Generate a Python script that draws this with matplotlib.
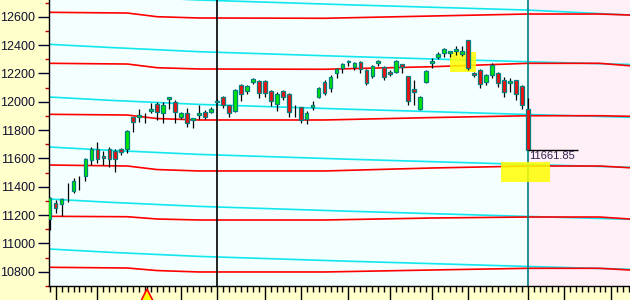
import numpy as np
import matplotlib
matplotlib.use('Agg')
import matplotlib.pyplot as plt
from matplotlib.patches import Rectangle

# candles, index 0..80
opens = [11172, 11285, 11278, 11377, 11370, 11426, 11476, 11589, 11666, 11617,
         11666, 11652, 11666, 11666, 11892, 11892, 11885, 11934, 11984, 11920,
         12019, 11998, 11892, 11920, 11871, 11906, 11927, 11927, 12001, 12033,
         11977, 11934, 12118, 12076, 12139, 12146, 12146, 12076, 11984, 12076,
         12054, 11942, 11963, 11878, 11963, 12033, 12139, 12097, 12203, 12238,
         12277, 12245, 12280, 12224, 12182, 12273, 12245, 12210, 12210, 12266,
         12182, 12090, 11949, 12139, 12273, 12316, 12344, 12344, 12358, 12337,
         12436, 12203, 12224, 12139, 12189, 12203, 12153, 12132, 12153, 12111,
         11949]
closes = [11320, 11250, 11313, 11377, 11440, 11426, 11596, 11666, 11596, 11603,
          11596, 11596, 11645, 11793, 11857, 11906, 11885, 11949, 11927, 11977,
          12033, 11927, 11920, 11850, 11885, 11920, 11892, 11949, 12008, 11977,
          11920, 12083, 12054, 12111, 12160, 12062, 12062, 12005, 12054, 12033,
          11927, 11942, 11871, 11920, 11977, 12097, 12062, 12174, 12231, 12266,
          12284, 12273, 12231, 12132, 12252, 12287, 12174, 12196, 12287, 12245,
          12005, 12069, 12033, 12217, 12287, 12337, 12372, 12358, 12372, 12358,
          12238, 12189, 12125, 12189, 12259, 12132, 12069, 12146, 12054, 11977,
          11661.85]
highs = [11327, 11306, 11320, 11426, 11461, 11476, 11603, 11680, 11716, 11652,
         11680, 11666, 11673, 11800, 11892, 11949, 11920, 11991, 11998, 11998,
         12033, 12012, 11927, 11956, 11885, 11977, 11942, 11963, 12019, 12040,
         11977, 12090, 12125, 12118, 12167, 12153, 12153, 12083, 12069, 12083,
         12062, 11977, 11963, 11934, 12005, 12104, 12153, 12189, 12238, 12273,
         12294, 12280, 12287, 12231, 12259, 12294, 12252, 12224, 12294, 12266,
         12182, 12153, 12040, 12224, 12309, 12351, 12379, 12358, 12393, 12393,
         12436, 12210, 12231, 12196, 12273, 12210, 12174, 12167, 12153, 12118,
         12026]
lows = [11094, 11214, 11193, 11292, 11356, 11377, 11440, 11553, 11567, 11553,
        11539, 11504, 11624, 11638, 11786, 11857, 11850, 11920, 11871, 11850,
        11949, 11850, 11878, 11822, 11814, 11878, 11878, 11920, 11991, 11956,
        11892, 11927, 12005, 12054, 12125, 12026, 12033, 11970, 11934, 12012,
        11892, 11892, 11850, 11843, 11942, 12026, 12047, 12069, 12167, 12203,
        12252, 12224, 12203, 12118, 12167, 12252, 12153, 12182, 12203, 12203,
        11977, 11977, 11942, 12132, 12238, 12302, 12316, 12316, 12330, 12323,
        12224, 12174, 12097, 12118, 12167, 12104, 12033, 12069, 12012, 11949,
        11661.85]

# level lines
red_idx = [0, 13, 18, 25, 46, 64, 80, 92, 97]
red_levels = [
    [12631, 12626, 12600, 12591, 12589, 12605, 12619, 12619, 12612],
    [12271, 12266, 12240, 12231, 12229, 12247, 12271, 12271, 12254],
    [11911, 11906, 11881, 11871, 11871, 11888, 11901, 11901, 11897],
    [11553, 11546, 11521, 11511, 11511, 11532, 11546, 11546, 11534],
    [11191, 11188, 11172, 11165, 11165, 11179, 11186, 11186, 11172],
    [10831, 10826, 10808, 10798, 10798, 10812, 10824, 10824, 10812],
]
cyan_idx = [0, 10, 25, 50, 80, 97]
cyan_levels = [
    [12770, 12747, 12718, 12684, 12647, 12612],
    [12405, 12383, 12353, 12319, 12282, 12263],
    [12033, 12010, 11981, 11947, 11910, 11890],
    [11680, 11657, 11628, 11594, 11557, 11537],
    [11313, 11290, 11261, 11227, 11190, 11170],
    [10960, 10937, 10908, 10874, 10837, 10817],
]

# highlight boxes: (idx0, idx1, price0, price1)
boxes = [(67.0, 71.3, 12210, 12351), (75.5, 83.7, 11433, 11574)]

black_vline = 28
teal_vline = 80
yticks = list(range(10800, 12601, 200))
xticks_major = [1, 8, 16.3, 22, 28, 42, 50, 64, 70, 86, 94]
xticks_red = [36, 57, 80]
marker_pos = 16.3

fig = plt.figure(figsize=(6.3, 3.0), dpi=100, facecolor='#FFFFCC')
ax = fig.add_axes([49 / 630, 14 / 300, 581 / 630, 286 / 300])
ax.set_facecolor('#F4FFFF')
ax.set_xlim(-0.1, 97.1)
ax.set_ylim(10699, 12718)

ax.axvspan(teal_vline, 98, color='#FFF0F8', lw=0, zorder=0)

for lv in cyan_levels:
    ax.plot(cyan_idx, lv, color='#12E6EE', lw=1.2, zorder=1)
for lv in red_levels:
    ax.plot(red_idx, lv, color='#FF0000', lw=1.2, zorder=1)

ax.axvline(black_vline, color='black', lw=1.2, zorder=2)
ax.axvline(teal_vline, color='#008080', lw=1.2, zorder=2)

for b in boxes:
    ax.add_patch(Rectangle((b[0], b[2]), b[1] - b[0], b[3] - b[2],
                           facecolor='#FFFF00', edgecolor='none', alpha=0.85, zorder=3))

o = np.array(opens)
c = np.array(closes)
x = np.arange(len(o))
ax.vlines(x, lows, highs, color='black', lw=0.9, zorder=4)
has_body = o != c
cols = np.where(c > o, '#00E600', '#EE1111')
ax.bar(x[has_body], np.abs(c - o)[has_body], bottom=np.minimum(o, c)[has_body],
       width=0.62, color=cols[has_body], edgecolor='#008080', linewidth=0.9, zorder=5)

# last price label
last = closes[-1]
ax.hlines(last, len(closes) - 1, len(closes) - 1 + 8.4, color='black', lw=1, zorder=6)
ax.text(len(closes) - 1 + 0.3, last - 12, '%.2f' % last, ha='left', va='top',
        fontsize=8, color='#302050', family='Liberation Sans', zorder=6)

# axes styling
for s in ['top', 'right']:
    ax.spines[s].set_visible(False)
ax.spines['left'].set_linewidth(1)
ax.spines['bottom'].set_linewidth(1)

ax.set_yticks(yticks)
ax.set_yticks([v + 100 for v in yticks[:-1]] + [10700, 12700], minor=True)
ax.tick_params(axis='y', which='major', length=8, width=1, color='#000030',
               labelsize=9, labelcolor='#101030', pad=2)
ax.tick_params(axis='y', which='minor', length=3, width=1, color='#C00000')
for lab in ax.get_yticklabels():
    lab.set_family('Liberation Sans')

allx = sorted(xticks_major + xticks_red)
ax.set_xticks(allx)
ax.set_xticklabels([])
ax.set_xticks(np.arange(0, 98, 1), minor=True)
ax.tick_params(axis='x', which='major', length=10, width=1, color='black')
ax.tick_params(axis='x', which='minor', length=4, width=1, color='black')
for pos, t in zip(allx, ax.xaxis.get_major_ticks()):
    if pos in xticks_red:
        t.tick1line.set_color('red')
        t.tick1line.set_markersize(14)

ax.plot(marker_pos, -0.03, marker='^', ms=9, mfc='#FFFF00', mec='red', mew=1.2,
        transform=ax.get_xaxis_transform(), clip_on=False, zorder=7)

fig.savefig('out.png', dpi=100, facecolor=fig.get_facecolor())
